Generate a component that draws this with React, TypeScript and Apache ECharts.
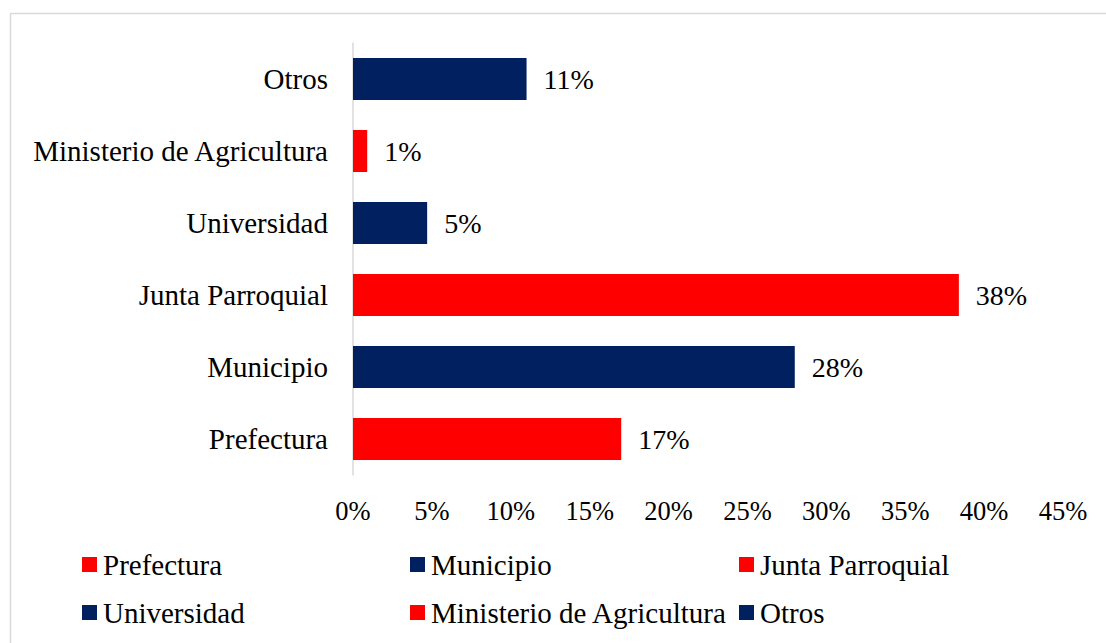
import React, { useEffect, useRef } from "react";
import * as echarts from "echarts";

const categories = ["Prefectura", "Municipio", "Junta Parroquial", "Universidad", "Ministerio de Agricultura", "Otros"];
const values = [17, 28, 38.4, 4.7, 0.9, 11];
const labels = ["17%", "28%", "38%", "5%", "1%", "11%"];
const colors = ["#FF0000", "#002060", "#FF0000", "#002060", "#FF0000", "#002060"];
const xTicks = [0, 5, 10, 15, 20, 25, 30, 35, 40, 45];

const FONT = "'Liberation Serif', 'Times New Roman', serif";

export default function App() {
  const ref = useRef<HTMLDivElement>(null);
  useEffect(() => {
    if (!ref.current) return;
    const chart = echarts.init(ref.current, null, { renderer: "svg" });
    const legendPos = [
      { left: 82, top: 550 },
      { left: 410, top: 550 },
      { left: 739, top: 550 },
      { left: 82, top: 598 },
      { left: 410, top: 598 },
      { left: 739, top: 598 },
    ];
    const series = categories.map((name, i) => ({
      name,
      type: "bar",
      stack: "all",
      barWidth: 42,
      itemStyle: { color: colors[i] },
      label: {
        show: true,
        position: "right",
        distance: 17,
        color: "#000",
        fontFamily: FONT,
        fontSize: 28,
        formatter: () => labels[i],
      },
      data: values.map((v, j) => (j === i ? v : "-")),
    }));
    chart.setOption({
      animation: false,
      backgroundColor: "#fff",
      textStyle: { fontFamily: FONT },
      graphic: [
        {
          type: "rect",
          shape: { x: 10.5, y: 13.5, width: 1200, height: 800 },
          style: { fill: "none", stroke: "#d9d9d9", lineWidth: 1.5 },
          silent: true,
          z: -1,
        },
      ],
      grid: { left: 353, right: 43, top: 43, bottom: 168, containLabel: false },
      xAxis: {
        type: "value",
        min: xTicks[0],
        max: xTicks[xTicks.length - 1],
        interval: 5,
        axisLine: { show: false },
        axisTick: { show: false },
        splitLine: { show: false },
        axisLabel: {
          color: "#000",
          fontFamily: FONT,
          fontSize: 26.5,
          margin: 22,
          formatter: "{value}%",
        },
      },
      yAxis: {
        type: "category",
        data: categories,
        axisLine: { show: true, lineStyle: { color: "#d9d9d9", width: 1.5 } },
        axisTick: { show: false },
        axisLabel: { color: "#000", fontFamily: FONT, fontSize: 29, margin: 25 },
      },
      legend: categories.map((name, i) => ({
        data: [name],
        left: legendPos[i].left,
        top: legendPos[i].top,
        padding: 0,
        itemWidth: 15,
        itemHeight: 15,
        itemGap: 0,
        icon: "rect",
        selectedMode: false,
        textStyle: { color: "#000", fontFamily: FONT, fontSize: 29, padding: [0, 0, 0, 1] },
      })),
      series,
    });
    return () => chart.dispose();
  }, []);
  return <div ref={ref} style={{ width: 1106, height: 643, position: "absolute", left: 0, top: 0 }} />;
}
